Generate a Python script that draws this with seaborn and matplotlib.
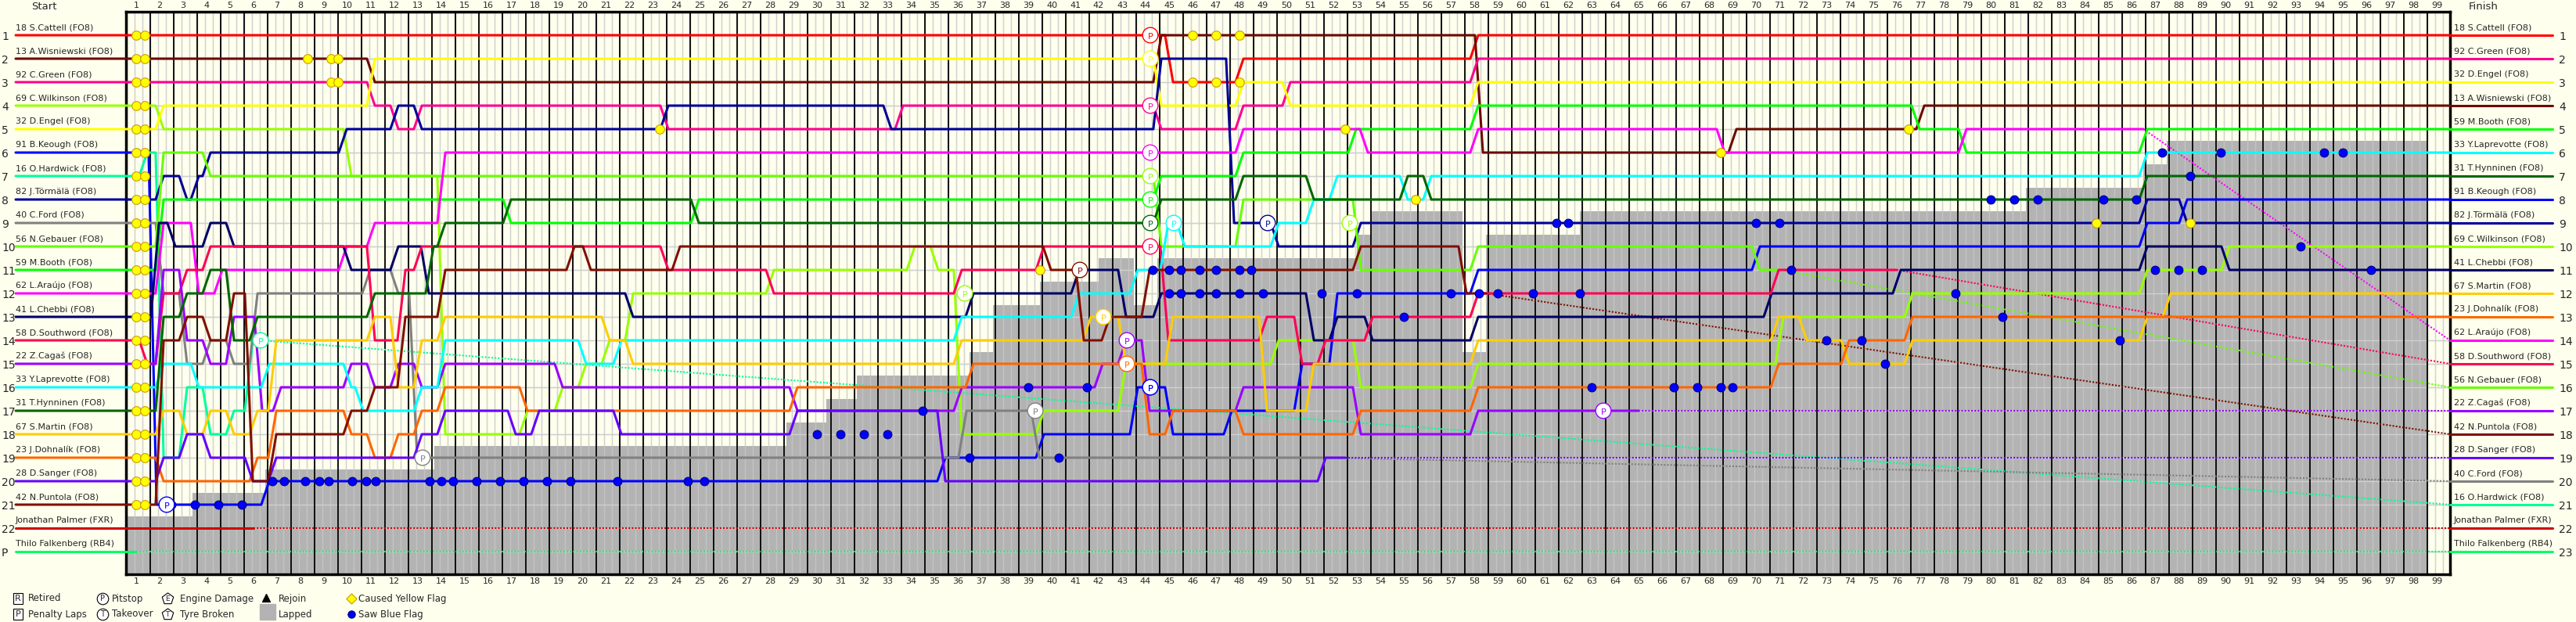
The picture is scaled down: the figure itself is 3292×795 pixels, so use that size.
import numpy as np
import matplotlib
matplotlib.use("Agg")
import matplotlib.pyplot as plt
import seaborn as sns

sns.set_style("white")
plt.rcParams['font.family'] = ['DejaVu Sans']

# drivers in start order
names = ["18 S.Cattell (FO8)", "13 A.Wisniewski (FO8)", "92 C.Green (FO8)", "69 C.Wilkinson (FO8)",
         "32 D.Engel (FO8)", "91 B.Keough (FO8)", "16 O.Hardwick (FO8)", "82 J.Törmälä (FO8)",
         "40 C.Ford (FO8)", "56 N.Gebauer (FO8)", "59 M.Booth (FO8)", "62 L.Araújo (FO8)",
         "41 L.Chebbi (FO8)", "58 D.Southword (FO8)", "22 Z.Cagaš (FO8)", "33 Y.Laprevotte (FO8)",
         "31 T.Hynninen (FO8)", "67 S.Martin (FO8)", "23 J.Dohnalík (FO8)", "28 D.Sanger (FO8)",
         "42 N.Puntola (FO8)", "Jonathan Palmer (FXR)", "Thilo Falkenberg (RB4)"]
colors = ["#ff0000", "#6b0a00", "#ff0090", "#99ff00", "#ffff00", "#0000ff", "#00ff99", "#000099",
          "#808080", "#66ff00", "#00ff00", "#ff00ff", "#000066", "#ff0055", "#9900ff", "#00ffff",
          "#006600", "#ffcc00", "#ff6600", "#6600ff", "#801000", "#cc0000", "#00ff66"]
finish_pos = [1, 4, 2, 10, 3, 8, 21, 9, 20, 16, 5, 14, 11, 15, 17, 6, 7, 12, 13, 19, 18, 22, 23]
retire_lap = [None, None, None, None, None, None, 6.3, None, 51.5, 71, None, 86.5, None, 76,
              65, None, None, None, None, 52.5, 58.5, 6, 1]

# position changes: (lap of change, new position)
cattell = [(0, 1), (45, 3), (48, 2), (58, 1)]
wisniewski = [(0, 2), (11, 3), (44.5, 1), (58.2, 6), (69, 5), (77, 4)]
green = [(0, 3), (11, 4), (12, 5), (13, 4), (23.5, 5), (33.5, 4), (44.5, 5), (48, 4), (50, 3), (58, 2)]
wilkinson = [(0, 4), (2, 5), (10, 7), (14, 18), (17.5, 17), (19, 16), (20, 15), (21, 14), (22, 12),
             (28, 11), (34, 10), (35, 11), (36, 18), (39.5, 17), (43, 15), (49.5, 14), (53, 16),
             (58, 15), (71, 13), (76.5, 12), (86.5, 11), (90, 10)]
engel = [(0, 5), (2, 4), (11, 2), (44.5, 4), (48, 3), (50, 4), (58, 3)]
keough = [(0, 6), (1.7, 21), (6.5, 20), (35.3, 19), (39.5, 18), (43.5, 16), (45, 18), (47.5, 17),
          (50.5, 15), (52, 12), (58, 11), (70, 10), (86.5, 9), (88.2, 8)]
hardwick = [(0, 7), (1.3, 6), (2, 19), (3, 16), (4, 18), (5, 17), (5.8, 14)]
tormala = [(0, 8), (2, 7), (3, 8), (3.5, 7), (4, 6), (9.8, 5), (12, 4), (13, 5), (23.5, 4), (33, 5),
           (44.5, 2), (47.6, 9), (49.5, 10), (53, 9), (86.5, 8), (88.2, 9)]
ford = [(0, 9), (2, 12), (3, 15), (4, 14), (5, 15), (6, 12), (10.8, 11), (12, 12), (12.8, 19),
        (36.2, 17), (39.3, 19)]
gebauer = [(0, 10), (2, 6), (4, 7), (44.5, 10), (48, 8), (53, 11), (58, 10), (70, 11)]
booth = [(0, 11), (2, 8), (16.8, 9), (24.8, 8), (44.5, 7), (48, 6), (52.8, 5), (58, 4), (76.8, 5),
         (78.8, 6), (86.5, 5)]
araujo = [(0, 12), (2, 9), (3.5, 12), (4.5, 11), (9.8, 10), (11, 9), (14, 6), (48, 5), (53.3, 6),
          (58, 5), (68.5, 6), (78.8, 5)]
chebbi = [(0, 13), (1.8, 9), (2.5, 10), (4, 9), (5, 10), (10, 11), (12, 10), (13.3, 12), (22, 13),
          (36.5, 12), (41, 11), (43, 13), (44.5, 12), (51, 14), (52, 13), (53.5, 14), (58, 13),
          (70.5, 12), (76, 11), (86.5, 10), (90, 11)]
southword = [(0, 14), (1.3, 15), (2, 12), (3, 11), (4, 10), (11, 14), (12.3, 11), (13, 10),
             (23.5, 11), (28, 12), (36, 11), (39.5, 10), (44.8, 14), (49, 13), (50.5, 15),
             (51.5, 14), (53.5, 13), (58, 12), (70.8, 11)]
cagas = [(0, 15), (2, 11), (3, 14), (4, 15), (5, 13), (6.2, 17), (7, 16), (10, 15), (11, 16),
         (12, 15), (13, 16), (14, 15), (19, 16), (29, 17), (36, 16), (42, 15), (43, 14), (44, 17),
         (48, 16), (53, 18), (58, 17)]
laprevotte = [(0, 16), (2, 15), (3.5, 16), (6.5, 15), (10, 16), (10.5, 17), (13, 16), (14, 14),
              (20, 15), (21.5, 14), (36, 13), (41, 12), (43.5, 11), (44.8, 9), (45.5, 10),
              (49.5, 9), (51, 8), (52, 7), (55, 8), (56, 7), (86.5, 6)]
hynninen = [(0, 17), (2, 13), (3, 12), (4, 11), (5, 14), (6, 13), (11, 12), (13.5, 10), (14, 9),
            (16.8, 8), (24.8, 9), (44.5, 8), (48, 7), (51, 8), (55, 7), (56, 8), (86.5, 7)]
martin = [(0, 18), (2, 17), (3, 18), (4, 17), (5, 18), (6, 17), (6.8, 14), (11, 13), (12, 16),
          (13, 14), (14, 13), (21, 14), (22, 15), (36, 14), (41.5, 13), (43, 15), (45, 13),
          (49, 17), (51, 15), (58, 14), (70.8, 13), (72, 14), (73.8, 15), (76.5, 14), (86.5, 13),
          (87.5, 12)]
dohnalik = [(0, 19), (2, 20), (6, 19), (6.8, 17), (10, 18), (11, 19), (12, 18), (13, 17), (14, 16),
            (17.5, 17), (29, 16), (36.5, 15), (44, 18), (45, 17), (48, 18), (53, 17), (58, 16),
            (70.8, 15), (73.8, 14), (76.5, 13)]
sanger = [(0, 20), (2, 19), (3, 18), (4, 19), (5.8, 20), (6.8, 19), (13, 18), (14, 17), (17, 18),
          (18, 17), (21.5, 18), (29, 17), (35.3, 20), (51.5, 19)]
puntola = [(0, 21), (2, 14), (3, 13), (4, 14), (5, 12), (5.8, 20), (6.8, 18), (10, 17), (11, 16),
           (12.3, 13), (14, 11), (19.5, 10), (20.2, 11), (24, 10), (39.8, 11), (41.2, 14),
           (42.3, 13), (44, 11), (53, 10), (57.5, 12)]
palmer = [(0, 22)]
falkenberg = [(0, 23)]
paths = [cattell, wisniewski, green, wilkinson, engel, keough, hardwick, tormala, ford, gebauer,
         booth, araujo, chebbi, southword, cagas, laprevotte, hynninen, martin, dohnalik, sanger,
         puntola, palmer, falkenberg]

# lapped zone: from lap, positions beyond this threshold are lapped
lapped_lap = [0.6, 3.4, 6.5, 13.7, 28.7, 30.4, 31.7, 36.5, 37.5, 39.5, 42, 43.5, 44.5, 53, 53.6,
              57.5, 58.5, 62.5, 81.5, 86.5, 87.5, 98.6]
lapped_thr = [21.5, 20.5, 19.5, 18.5, 17.5, 16.5, 15.5, 14.5, 12.5, 11.5, 10.5, 12.5, 10.5, 9.5,
              8.5, 14.5, 9.5, 8.5, 7.5, 6.5, 5.5, 24]

# markers
yellow_lap = [1, 1.35] * 21 + [8.3, 9.3, 9.6, 9.3, 9.6, 23.3, 39.5, 46, 47, 48, 46, 47, 48, 52.5,
                                 55.5, 68.5, 76.5, 84.5, 88.5]
yellow_pos = [p for p in range(1, 22) for _ in range(2)] + [2, 2, 2, 3, 3, 5, 11, 1, 1, 1, 3, 3, 3,
                                                           5, 8, 6, 5, 9, 9]
blue_lap = [2.5, 3.5, 4.5, 5.5, 6.8, 7.3, 8.2, 8.8, 9.2, 10.2, 10.8, 11.2, 13.5, 14, 14.5, 15.5,
            16.5, 17.5, 18.5, 19.5, 21.5, 24.5, 25.2, 30, 31, 32, 33, 34.5, 36.5, 39, 40.3, 41.5,
            44.3, 45, 45.5, 46.3, 47, 48, 48.5, 45, 45.5, 46.3, 47, 48, 49, 51.5, 53, 55, 57,
            58.2, 59, 60.5, 61.5, 62, 63, 66.5, 67.5, 68.5, 69, 70, 71, 73, 75.5, 80, 81, 82,
            84.8, 86.2, 87.3, 88.5, 89.8, 93.2, 94.2, 95, 96.2, 62.5, 71.5, 74.5, 78.5, 80.5,
            85.5, 87, 88, 89]
blue_pos = [21, 21, 21, 21, 20, 20, 20, 20, 20, 20, 20, 20, 20, 20, 20, 20, 20, 20, 20, 20, 20,
            20, 20, 18, 18, 18, 18, 17, 19, 16, 19, 16, 11, 11, 11, 11, 11, 11, 11, 12, 12, 12,
            12, 12, 12, 12, 12, 13, 12, 12, 12, 12, 9, 9, 16, 16, 16, 16, 16, 9, 9, 14, 15, 8,
            8, 8, 8, 8, 6, 7, 6, 10, 6, 6, 11, 12, 11, 14, 12, 13, 14, 11, 11, 11]
pit_lap = [44.2, 44.2, 44.2, 44.2, 44.2, 44.2, 44.2, 44.2, 44.2, 45.2, 49.2, 41.2, 42.2, 43.2,
           43.2, 44.2, 36.3, 39.3, 13.2, 2.3, 6.3, 63.5, 52.7]
pit_pos = [1, 2, 4, 6, 7, 8, 9, 10, 16, 9, 9, 11, 13, 14, 15, 16, 12, 17, 19, 21, 14, 17, 9]
pit_col = ["#ff0000", "#ffff00", "#ff0090", "#ff00ff", "#99ff00", "#00ff00", "#006600", "#ff0055",
           "#0000ff", "#00ffff", "#000099", "#801000", "#ffcc00", "#9900ff", "#ff6600", "#0000ff",
           "#99ff00", "#808080", "#808080", "#0000ff", "#00ff99", "#9900ff", "#99ff00"]

W, H = 3292, 795
L0, R0, T0, B0 = 161, 3131, 15, 734
fig = plt.figure(figsize=(W / 100, H / 100), dpi=100, facecolor="#ffffee")
ax = fig.add_axes([L0 / W, (H - B0) / H, (R0 - L0) / W, (B0 - T0) / H])
ax.set_facecolor("#ffffee")
x_lo, x_hi = (L0 - 174) / 30 + 1, (R0 - 174) / 30 + 1
y_lo, y_hi = (B0 - 45) / 30 + 1, (T0 - 45) / 30 + 1
x_lab_l, x_lab_r = (20 - 174) / 30 + 1, (3262 - 174) / 30 + 1

# grid
for p in range(1, 24):
    ax.axhline(p, color="#d8d8d8", lw=1, zorder=0)
for i in range(1, 100):
    for d in (0.27, -0.07, -0.4):
        ax.axvline(i + d, color="#d8d8d8", lw=1, zorder=0)
    ax.axvline(i + 0.6, color="black", lw=1.3, zorder=1)

# lapped area
xs, ys = [], []
for k, l in enumerate(lapped_lap):
    nxt = lapped_lap[k + 1] if k + 1 < len(lapped_lap) else x_hi
    xs += [l, nxt]
    ys += [lapped_thr[k], lapped_thr[k]]
ax.fill_between(xs, ys, y_lo, color="#b3b3b3", zorder=0.5, lw=0)
for p in range(1, 24):
    ax.plot([x_lo, x_hi], [p, p], color="#d0d0d0", lw=1, zorder=0.6)
for i in range(1, 100):
    for d in (0.27, -0.07, -0.4):
        ax.axvline(i + d, color="#cfcfcf", lw=1, zorder=0.6, alpha=0.6)

# driver lines
w = 0.17
for k, path in enumerate(paths):
    px, py = [x_lab_l], [path[0][1]]
    end = retire_lap[k] if retire_lap[k] is not None else x_hi
    for j in range(1, len(path)):
        l, p = path[j]
        if l > end:
            break
        px += [l - w, l + w]
        py += [path[j - 1][1], p]
    last = py[-1]
    px.append(end)
    py.append(last)
    sns.lineplot(x=px, y=py, color=colors[k], lw=2.2, sort=False, estimator=None, ax=ax,
                 clip_on=False, zorder=3)
    if retire_lap[k] is not None:
        ax.plot([end, x_hi], [last, finish_pos[k]], color=colors[k], lw=1.5, ls=(0, (1, 1)),
                zorder=2.5)
    ax.plot([x_hi, x_lab_r], [finish_pos[k], finish_pos[k]], color=colors[k], lw=2.2,
            clip_on=False, zorder=3)

# markers
ax.scatter(yellow_lap, yellow_pos, s=70, color="#ffff00", edgecolor="#cc9900", lw=0.8, zorder=5)
ax.scatter(blue_lap, blue_pos, s=60, color="#0000ff", edgecolor="#000080", lw=0.8, zorder=5)
ax.scatter(pit_lap, pit_pos, s=200, color="white", edgecolors=pit_col, lw=1, zorder=6)
for l, p, c in zip(pit_lap, pit_pos, pit_col):
    ax.text(l, p + 0.05, "P", color=c, fontsize=8, ha="center", va="center", zorder=7)

ax.set_xlim(x_lo, x_hi)
ax.set_ylim(y_lo, y_hi)
ax.set_xticks([])
ax.set_yticks([])
for s in ax.spines.values():
    s.set_linewidth(2.5)
    s.set_color("black")

# texts
for i in range(1, 100):
    xp = (174 + 30 * (i - 1)) / W
    fig.text(xp, 1 - 7 / H, str(i), ha="center", va="center", fontsize=8)
    fig.text(xp, 1 - 743 / H, str(i), ha="center", va="center", fontsize=8)
fig.text(40 / W, 1 - 9 / H, "Start", ha="left", va="center", fontsize=9.5)
fig.text(3155 / W, 1 - 9 / H, "Finish", ha="left", va="center", fontsize=9.5)
order = sorted(range(len(names)), key=lambda k: finish_pos[k])
for k in range(len(names)):
    y = 45 + 30 * k
    lbl = "P" if k == 22 else str(k + 1)
    fig.text(2 / W, 1 - (y + 2) / H, lbl, ha="left", va="center", fontsize=10)
    fig.text(20 / W, 1 - (y - 10) / H, names[k], ha="left", va="center", fontsize=8)
    fig.text(3136 / W, 1 - (y - 10) / H, names[order[k]], ha="left", va="center", fontsize=8)
    fig.text(3270 / W, 1 - (y + 2) / H, str(k + 1), ha="left", va="center", fontsize=10)

# legend
lg = fig.add_axes([0, 0, 1, 1], facecolor="none")
lg.set_xlim(0, W)
lg.set_ylim(H, 0)
lg.axis("off")
lg.text(23, 765, "R", fontsize=8, ha="center", va="center",
        bbox=dict(boxstyle="square,pad=0.2", fc="white", ec="black", lw=0.8))
lg.text(23, 785, "P", fontsize=8, ha="center", va="center",
        bbox=dict(boxstyle="square,pad=0.2", fc="white", ec="black", lw=0.8))
lg.text(36, 765, "Retired", fontsize=8.5, va="center")
lg.text(36, 785, "Penalty Laps", fontsize=8.5, va="center")
for yy, t, lab in [(765, "P", "Pitstop"), (785, "T", "Takeover")]:
    lg.scatter([131], [yy], s=110, color="white", edgecolor="black", lw=0.8)
    lg.text(131, yy, t, fontsize=7, ha="center", va="center")
    lg.text(143, yy, lab, fontsize=8.5, va="center")
for yy, t, lab in [(765, "E", "Engine Damage"), (785, "T", "Tyre Broken")]:
    lg.scatter([214], [yy], s=120, marker="p", color="white", edgecolor="black", lw=0.8)
    lg.text(214, yy, t, fontsize=6.5, ha="center", va="center")
    lg.text(230, yy, lab, fontsize=8.5, va="center")
lg.scatter([340], [764], s=50, marker="^", color="black")
lg.text(356, 765, "Rejoin", fontsize=8.5, va="center")
lg.add_patch(plt.Rectangle((332, 772), 20, 20, color="#b3b3b3"))
lg.text(356, 785, "Lapped", fontsize=8.5, va="center")
lg.scatter([449], [765], s=45, marker="D", color="#ffff00", edgecolor="#cc9900", lw=0.8)
lg.text(458, 765, "Caused Yellow Flag", fontsize=8.5, va="center")
lg.scatter([449], [785], s=45, color="#0000ff", edgecolor="#000080", lw=0.8)
lg.text(458, 785, "Saw Blue Flag", fontsize=8.5, va="center")

fig.savefig("out.png", dpi=100, facecolor=fig.get_facecolor())
